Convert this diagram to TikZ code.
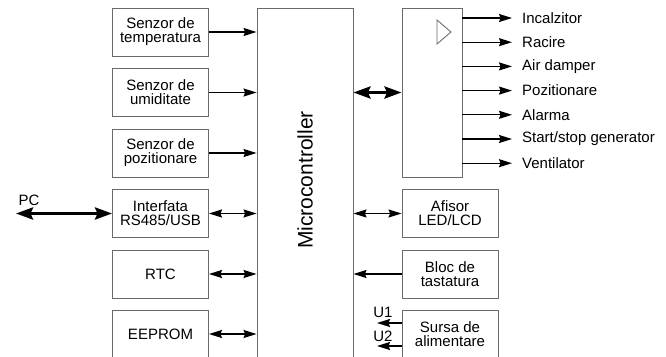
\documentclass[tikz,border=0pt]{standalone}
\usepackage{fontspec}
\setmainfont{Liberation Sans}
\usetikzlibrary{arrows.meta,positioning}
\definecolor{BoxFrame}{HTML}{6A6A6A}
\tikzset{
  block/.style={draw=BoxFrame, line width=0.9pt, minimum width=96pt, minimum height=48pt,
    align=center, inner sep=1pt, font=\fontsize{15}{14}\selectfont},
  sig/.style={line width=1.3pt, -{Stealth[length=13pt,width=8pt,inset=1.5pt]}},
  bus/.style={line width=1.3pt, {Stealth[length=13pt,width=8pt,inset=1.5pt]}-{Stealth[length=13pt,width=8pt,inset=1.5pt]}},
  wide/.style={line width=3.2pt, {Stealth[length=17pt,width=12pt,inset=2.5pt]}-{Stealth[length=17pt,width=12pt,inset=2.5pt]}},
  outlbl/.style={anchor=west, inner sep=0pt, font=\fontsize{15}{14}\selectfont}
}

\begin{document}
\begin{tikzpicture}[x=1pt, y=-1pt]
  \useasboundingbox (0,0) rectangle (666,356);
  \clip (0,0) rectangle (666,356);
  % microcontroller
  \node[draw=BoxFrame, line width=0.9pt, minimum width=96pt, minimum height=372pt]
    (mcu) at (305,194) {};
  \node[rotate=90, font=\fontsize{21}{24}\selectfont] (mcutxt) at (305,180) {Microcontroller};
  % left column
  \node[block] (temp) at (160.5,32) {Senzor de\\temperatura};
  \node[block] (umid) at (160.5,92.5) {Senzor de\\umiditate};
  \node[block] (pozi) at (160.5,153) {Senzor de\\pozitionare};
  \node[block] (rs) at (160.5,213.5) {Interfata\\RS485/USB};
  \node[block] (rtc) at (160.5,274) {RTC};
  \node[block] (eeprom) at (160.5,334) {EEPROM};
  \draw[sig] (temp.east) -- (temp.east -| mcu.west);
  \draw[sig] (umid.east) -- (umid.east -| mcu.west);
  \draw[sig] (pozi.east) -- (pozi.east -| mcu.west);
  \draw[bus] (rs.east) -- (rs.east -| mcu.west);
  \draw[bus] (rtc.east) -- (rtc.east -| mcu.west);
  \draw[bus] (eeprom.east) -- (eeprom.east -| mcu.west);
  % PC link
  \coordinate (pc) at (16,213.5);
  \node[font=\fontsize{15}{14}\selectfont, inner sep=0pt] (pclbl) at (29,200) {PC};
  \draw[wide] (pc) -- (rs.west);
  % output stage
  \node[draw=BoxFrame, line width=0.9pt, minimum width=60pt, minimum height=169pt]
    (drv) at (432,92.5) {};
  \draw[BoxFrame, line width=0.9pt] (437,20) -- (451,32) -- (437,44) -- cycle;
  \draw[wide] (mcu.east |- drv.west) -- (drv.west);
  \node[outlbl] (o1) at (522,18) {Incalzitor};
  \node[outlbl] (o2) at (522,42.2) {Racire};
  \node[outlbl] (o3) at (522,66.4) {Air damper};
  \node[outlbl] (o4) at (522,90.6) {Pozitionare};
  \node[outlbl] (o5) at (522,114.8) {Alarma};
  \node[outlbl] (o6) at (522,139) {Start/stop generator};
  \node[outlbl] (o7) at (522,163.2) {Ventilator};
  \draw[sig] (drv.east |- o1.west) -- ([xshift=-10pt]o1.west);
  \draw[sig] (drv.east |- o2.west) -- ([xshift=-10pt]o2.west);
  \draw[sig] (drv.east |- o3.west) -- ([xshift=-10pt]o3.west);
  \draw[sig] (drv.east |- o4.west) -- ([xshift=-10pt]o4.west);
  \draw[sig] (drv.east |- o5.west) -- ([xshift=-10pt]o5.west);
  \draw[sig] (drv.east |- o6.west) -- ([xshift=-10pt]o6.west);
  \draw[sig] (drv.east |- o7.west) -- ([xshift=-10pt]o7.west);
  % right column
  \node[block] (afis) at (450,213.5) {Afisor\\LED/LCD};
  \node[block] (tast) at (450,274) {Bloc de\\tastatura};
  \node[block] (sursa) at (450,334) {Sursa de\\alimentare};
  \draw[bus] (afis.west) -- (afis.west -| mcu.east);
  \draw[sig] (tast.west) -- (tast.west -| mcu.east);
  \coordinate (u1) at (377,323);
  \coordinate (u2) at (377,346);
  \node[font=\fontsize{15}{14}\selectfont, inner sep=0pt] (u1lbl) at (383,312) {U1};
  \node[font=\fontsize{15}{14}\selectfont, inner sep=0pt] (u2lbl) at (383,336) {U2};
  \draw[sig] (sursa.west |- u1) -- (u1);
  \draw[sig] (sursa.west |- u2) -- (u2);
\end{tikzpicture}
\end{document}
